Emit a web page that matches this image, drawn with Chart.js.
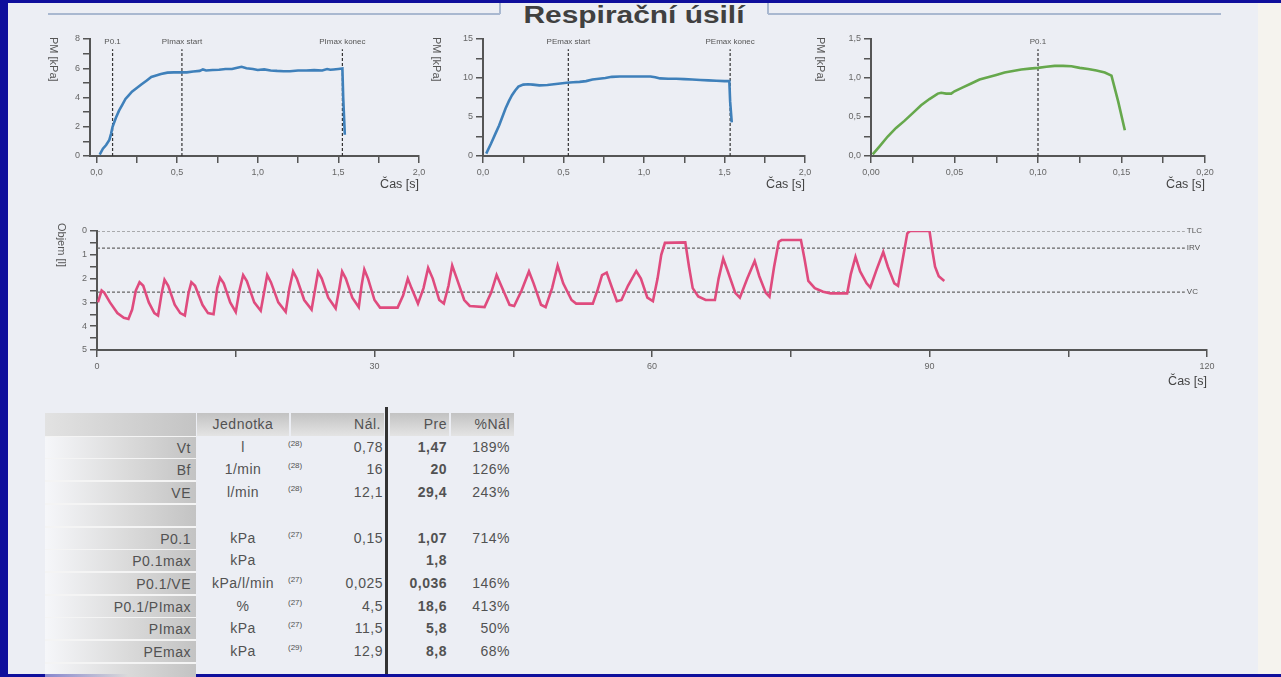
<!DOCTYPE html>
<html>
<head>
<meta charset="utf-8">
<script src="https://cdn.jsdelivr.net/npm/chart.js@4.4.1/dist/chart.umd.min.js"></script>
<style>
body{margin:0;width:1281px;height:677px;background:#0f0f9c;overflow:hidden;position:relative;
  font-family:"Liberation Sans",Arial,Helvetica,sans-serif;}
.abs{position:absolute;}
#page{left:8px;top:3px;width:1273px;height:671px;background:#eceef4;}
#strip{left:1258px;top:3px;width:23px;height:671px;background:#f5f3ee;}
canvas{position:absolute;}
.ytitle{position:absolute;writing-mode:vertical-rl;font-size:11px;color:#555;white-space:nowrap;}
#title{left:500px;top:4px;width:268px;height:22px;line-height:22px;text-align:center;
  font-size:23px;font-weight:bold;color:#404040;transform:scaleX(1.3);}
.hl{position:absolute;height:0;border-top:2px solid #a9b8d0;}
.vl{position:absolute;width:0;border-left:2px solid #a9b8d0;}
.cell{position:absolute;font-size:14px;letter-spacing:0.5px;color:#525252;height:23px;line-height:23px;white-space:nowrap;}
.lab{background:linear-gradient(to right,rgba(255,255,255,0.5) 0%,#dadada 55%,#c3c3c3 100%);
  border-top:1px solid #f4f4f4;border-bottom:1px solid #f4f4f4;box-sizing:border-box;text-align:right;padding-right:5px;}
.head{background:linear-gradient(#c2c2c2,#e4e4e4);}
.note{font-size:8px;letter-spacing:0;line-height:10px;height:10px;}
</style>
</head>
<body>
<div id="page" class="abs"></div>
<div id="strip" class="abs"></div>

<div class="hl" style="left:48px;top:13px;width:452px"></div>
<div class="vl" style="left:499px;top:3px;height:11px"></div>
<div class="vl" style="left:767px;top:3px;height:11px"></div>
<div class="hl" style="left:768px;top:13px;width:453px"></div>
<div id="title" class="abs">Respirační úsilí</div>

<canvas id="cPI" width="414" height="175" style="left:30px;top:25px"></canvas>
<canvas id="cPE" width="407" height="175" style="left:423px;top:25px"></canvas>
<canvas id="cP01" width="424" height="175" style="left:811px;top:25px"></canvas>
<canvas id="cVol" width="1198" height="180" style="left:37px;top:215px"></canvas>

<div class="ytitle" style="left:48px;top:37px">PM [kPa]</div>
<div class="ytitle" style="left:431px;top:37px">PM [kPa]</div>
<div class="ytitle" style="left:815px;top:37px">PM [kPa]</div>
<div class="ytitle" style="left:56px;top:223px">Objem [l]</div>

<div id="table"></div>

<script>
// ---- PImax (nádech) ----
const piTime = [0.02,0.04,0.06,0.08,0.09,0.10,0.12,0.14,0.16,0.18,0.20,0.22,0.25,0.28,0.31,0.34,0.37,0.40,0.44,0.48,
  0.52,0.56,0.60,0.64,0.66,0.68,0.72,0.76,0.80,0.84,0.88,0.90,0.93,0.97,1.00,1.04,1.08,1.12,1.16,1.20,
  1.25,1.30,1.35,1.40,1.43,1.45,1.47,1.50,1.525,1.53,1.54];
const piPress = [0.1,0.5,0.75,1.1,1.5,2.0,2.6,3.1,3.5,3.9,4.15,4.4,4.65,4.9,5.15,5.4,5.5,5.6,5.7,5.72,
  5.72,5.72,5.78,5.82,5.92,5.85,5.88,5.9,5.95,5.95,6.05,6.1,6.0,5.95,5.88,5.92,5.85,5.82,5.8,5.8,
  5.85,5.85,5.87,5.85,5.95,5.9,5.92,5.95,5.98,4.0,1.45];
const piMarks = [0.1, 0.53, 1.525];
const piMarkNames = ['P0.1', 'PImax start', 'PImax konec'];

// ---- PEmax (výdech) ----
const peTime = [0.02,0.05,0.08,0.10,0.12,0.14,0.16,0.18,0.20,0.22,0.25,0.28,0.31,0.35,0.40,0.44,0.48,0.52,0.56,0.60,
  0.64,0.68,0.72,0.76,0.80,0.85,0.90,0.95,1.00,1.04,1.07,1.10,1.15,1.20,1.25,1.30,1.35,1.40,1.45,1.50,
  1.53,1.535,1.545];
const pePress = [0.3,1.6,3.0,3.9,5.0,6.1,7.0,7.8,8.4,8.9,9.15,9.2,9.15,9.05,9.1,9.2,9.3,9.4,9.45,9.5,
  9.6,9.8,9.9,10.0,10.15,10.2,10.2,10.2,10.2,10.2,10.1,9.95,9.9,9.9,9.85,9.8,9.75,9.7,9.65,9.6,
  9.6,7.0,4.3];
const peMarks = [0.53, 1.535];
const peMarkNames = ['PEmax start', 'PEmax konec'];

// ---- P0.1 ----
const p01Time = [0.001,0.005,0.01,0.015,0.02,0.025,0.03,0.035,0.04,0.042,0.045,0.048,0.05,0.055,0.06,0.065,0.07,
  0.075,0.08,0.085,0.09,0.095,0.10,0.105,0.11,0.115,0.12,0.125,0.13,0.135,0.14,0.144,0.148,0.152];
const p01Press = [0.02,0.12,0.25,0.36,0.45,0.55,0.65,0.73,0.8,0.81,0.8,0.8,0.83,0.88,0.93,0.98,1.01,
  1.04,1.07,1.09,1.11,1.12,1.13,1.145,1.155,1.155,1.15,1.13,1.115,1.095,1.07,1.03,0.7,0.33];
const p01Marks = [0.1];
const p01MarkNames = ['P0.1'];

// ---- Objem ----
const volTime = [0.1,0.5,0.8,1.4,2.2,2.9,3.4,3.8,4.2,4.6,
  5.0,5.6,6.2,6.6,7.0,7.3,7.7,8.4,9.0,9.5,
  9.9,10.2,10.6,11.4,12.0,12.6,13.0,13.3,13.7,14.4,
  15.0,15.4,15.8,16.2,17.0,17.7,18.1,18.4,18.8,19.6,
  20.4,20.8,21.2,21.6,22.4,23.2,23.6,23.9,24.3,25.0,
  25.8,26.2,26.5,26.9,27.6,28.3,28.6,28.9,29.3,30.0,
  30.6,32.5,33.1,33.6,34.0,34.7,35.3,35.8,36.3,37.0,
  37.5,38.0,38.4,38.9,39.7,40.3,41.9,42.6,43.2,43.7,
  44.6,45.1,45.9,46.7,47.2,48.0,48.5,49.2,49.8,50.4,
  51.3,51.8,53.6,54.1,54.6,55.1,55.6,56.2,56.7,57.4,
  58.3,58.8,59.5,60.1,60.6,61.0,61.4,63.6,64.0,64.4,
  65.0,65.8,66.8,67.2,67.7,68.2,69.0,69.5,70.3,71.1,
  71.6,72.3,72.7,73.2,73.7,74.0,76.1,76.5,76.9,77.6,
  78.5,79.3,81.1,81.5,82.0,82.5,83.2,83.6,84.3,85.0,
  85.5,86.2,86.6,87.1,87.6,87.9,90.0,90.3,90.6,91.0,
  91.6];
const volLitres = [3.0,2.5,2.6,3.0,3.45,3.65,3.7,3.3,2.5,2.15,
  2.3,3.0,3.45,3.55,2.6,2.05,2.3,3.1,3.45,3.55,
  2.6,2.15,2.3,3.1,3.45,3.5,2.4,1.97,2.2,3.0,
  3.4,2.5,1.85,2.1,3.0,3.35,2.5,1.85,2.15,3.0,
  3.4,2.4,1.7,2.0,2.9,3.3,2.4,1.72,2.0,2.8,
  3.25,2.4,1.7,2.0,2.8,3.2,2.3,1.62,2.0,2.9,
  3.22,3.22,2.7,2.0,2.4,3.05,2.4,1.55,2.0,2.9,
  3.05,2.3,1.45,2.0,2.9,3.15,3.2,2.6,1.85,2.3,
  3.1,3.15,2.5,1.7,2.2,3.1,3.2,2.4,1.45,2.2,
  2.9,3.05,3.05,2.5,1.85,1.75,2.3,2.95,2.9,2.3,
  1.68,2.0,2.8,2.95,2.0,1.0,0.5,0.48,1.5,2.4,
  2.75,2.9,2.9,2.0,1.16,1.7,2.6,2.8,2.0,1.26,
  1.9,2.6,2.76,1.5,0.45,0.38,0.38,1.2,2.1,2.4,
  2.55,2.62,2.62,1.8,1.09,1.7,2.2,2.37,1.6,0.88,
  1.5,2.2,2.3,1.2,0.1,0.0,0.0,0.8,1.5,1.9,
  2.1];
const volLevels = [0, 0.72, 2.57];
const volLevelNames = ['TLC', 'IRV', 'VC'];

// ---- osy ----
const secTicks = [0,0.25,0.5,0.75,1,1.25,1.5,1.75,2];
const secLabels = ['0,0','','0,5','','1,0','','1,5','','2,0'];
const p01TimeTicks = [0,0.025,0.05,0.075,0.1,0.125,0.15,0.175,0.2];
const p01TimeLabels = ['0,00','','0,05','','0,10','','0,15','','0,20'];
const volTimeTicks = [0,15,30,45,60,75,90,105,120];
const volTimeLabels = ['0','','30','','60','','90','','120'];
const piTicks = [0,1,2,3,4,5,6,7,8];
const piLabels = ['0','','2','','4','','6','','8'];
const peTicks = [0,2.5,5,7.5,10,12.5,15];
const peLabels = ['0','','5','','10','','15'];
const p01Ticks = [0,0.25,0.5,0.75,1,1.25,1.5];
const p01Labels = ['0,0','','0,5','','1,0','','1,5'];
const volTicks = [0,0.5,1,1.5,2,2.5,3,3.5,4,4.5,5];
const volLabels = ['0','','1','','2','','3','','4','','5'];

// ---- tabulka ----
const rowNames = ['Vt','Bf','VE','','P0.1','P0.1max','P0.1/VE','P0.1/PImax','PImax','PEmax',''];
const rowUnits = ['l','1/min','l/min','','kPa','kPa','kPa/l/min','%','kPa','kPa',''];
const rowNotes = ['(28)','(28)','(28)','','(27)','','(27)','(27)','(27)','(29)',''];
const rowNal = ['0,78','16','12,1','','0,15','','0,025','4,5','11,5','12,9',''];
const rowPre = ['1,47','20','29,4','','1,07','1,8','0,036','18,6','5,8','8,8',''];
const rowPct = ['189%','126%','243%','','714%','','146%','413%','50%','68%',''];

Chart.defaults.font.family = '"Liberation Sans", Arial, Helvetica, sans-serif';

// popisky u přerušovaných čar
const markerLabels = {
  id: 'markerLabels',
  afterDatasetsDraw(chart, args, opts) {
    const {ctx, scales: {x, y}} = chart;
    ctx.save();
    ctx.font = '8px "Liberation Sans", Arial';
    ctx.fillStyle = '#555';
    ctx.textBaseline = 'middle';
    (opts.items || []).forEach(it => {
      ctx.textAlign = it.align;
      ctx.fillText(it.text, x.getPixelForValue(it.x) + (it.dx || 0), y.getPixelForValue(it.y) + (it.dy || 0));
    });
    ctx.restore();
  }
};

function axisStyle() {
  return {
    grid: {display: true, drawOnChartArea: false, drawTicks: true, tickLength: 7, color: '#555', tickColor: '#555', lineWidth: 1.5},
    border: {display: true, color: '#555', width: 2}
  };
}

function makeChart(id, o) {
  const sets = [{
    data: o.t.map((t, i) => ({x: t, y: o.v[i]})),
    borderColor: o.color, borderWidth: 2.6, pointRadius: 0, tension: 0
  }];
  const items = [];
  (o.vMarks || []).forEach((m, i) => {
    sets.push({data: [{x: m, y: 0}, {x: m, y: o.vTop}], borderColor: '#333', borderWidth: 1.2,
      borderDash: [3, 2], pointRadius: 0});
    items.push({x: m, y: o.vTop, dy: -7, text: o.vNames[i], align: 'center'});
  });
  (o.hMarks || []).forEach((m, i) => {
    sets.push({data: [{x: 0, y: m}, {x: o.hEnd, y: m}], borderColor: '#666', borderWidth: 1.2,
      borderDash: [3, 2], pointRadius: 0});
    items.push({x: o.hEnd, y: m, dx: 2, text: o.hNames[i], align: 'left'});
  });
  new Chart(document.getElementById(id), {
    type: 'line',
    data: {datasets: sets},
    options: {
      responsive: false, animation: false, events: [],
      layout: {padding: {top: o.padTop, right: o.padRight, left: 0, bottom: o.padBottom}},
      plugins: {legend: {display: false}, tooltip: {enabled: false}, markerLabels: {items: items}},
      scales: {
        x: Object.assign(axisStyle(), {
          type: 'linear', min: o.xMin, max: o.xMax,
          afterFit: s => { s.height = o.xH; },
          afterBuildTicks: s => { s.ticks = o.xTicks.map(v => ({value: v})); },
          ticks: {color: '#666', font: {size: 9}, padding: 4, autoSkip: false, maxRotation: 0,
            callback: (v, i) => o.xLabels[i]},
          title: {display: true, text: 'Čas [s]', align: 'end', color: '#444', font: {size: 12.5}, padding: 0}
        }),
        y: Object.assign(axisStyle(), {
          min: o.yMin, max: o.yMax, reverse: !!o.yReverse,
          afterFit: s => { s.width = 60; },
          afterBuildTicks: s => { s.ticks = o.yTicks.map(v => ({value: v})); },
          ticks: {color: '#666', font: {size: 9}, padding: 3, autoSkip: false,
            callback: (v, i) => o.yLabels[i]}
        })
      }
    },
    plugins: [markerLabels]
  });
}

makeChart('cPI', {t: piTime, v: piPress, color: '#3f80ba', xMin: -0.04, xMax: 2, yMin: 0, yMax: 8,
  xTicks: secTicks, xLabels: secLabels, yTicks: piTicks, yLabels: piLabels,
  vMarks: piMarks, vNames: piMarkNames, vTop: 7.3,
  padTop: 14, padRight: 25, padBottom: 8, xH: 36});
makeChart('cPE', {t: peTime, v: pePress, color: '#3f80ba', xMin: 0, xMax: 2, yMin: 0, yMax: 15,
  xTicks: secTicks, xLabels: secLabels, yTicks: peTicks, yLabels: peLabels,
  vMarks: peMarks, vNames: peMarkNames, vTop: 13.7,
  padTop: 14, padRight: 25, padBottom: 8, xH: 36});
makeChart('cP01', {t: p01Time, v: p01Press, color: '#66a84c', xMin: 0, xMax: 0.2, yMin: 0, yMax: 1.5,
  xTicks: p01TimeTicks, xLabels: p01TimeLabels, yTicks: p01Ticks, yLabels: p01Labels,
  vMarks: p01Marks, vNames: p01MarkNames, vTop: 1.37,
  padTop: 14, padRight: 30, padBottom: 8, xH: 36});
makeChart('cVol', {t: volTime, v: volLitres, color: '#df4b7e', xMin: 0, xMax: 120, yMin: 0, yMax: 5, yReverse: true,
  xTicks: volTimeTicks, xLabels: volTimeLabels, yTicks: volTicks, yLabels: volLabels,
  hMarks: volLevels, hNames: volLevelNames, hEnd: 117.6,
  padTop: 16, padRight: 28, padBottom: 6, xH: 39});

// tabulka
const tbl = document.getElementById('table');
const rowH = 22.7, top0 = 413;
function cell(cls, left, top, width, text, style) {
  const d = document.createElement('div');
  d.className = 'cell ' + cls;
  d.style.left = left + 'px';
  d.style.top = top + 'px';
  d.style.width = width + 'px';
  if (style) d.style.cssText += style;
  d.textContent = text;
  tbl.appendChild(d);
}
// hlavička
cell('head', 45, top0, 151, '', 'background:linear-gradient(to right,#e2e2e2,#c4c4c4);');
cell('head', 197, top0, 92, 'Jednotka', 'text-align:center;');
cell('head', 291, top0, 93, 'Nál.', 'text-align:right;box-sizing:border-box;padding-right:3px;');
cell('head', 390, top0, 59, 'Pre', 'text-align:right;box-sizing:border-box;padding-right:2px;');
cell('head', 451, top0, 63, '%Nál', 'text-align:right;box-sizing:border-box;padding-right:4px;');
rowNames.forEach((n, i) => {
  const y = top0 + rowH * (i + 1);
  cell('lab', 45, y, 151, n);
  cell('', 197, y, 92, rowUnits[i], 'text-align:center;');
  cell('note', 288, y + 3, 30, rowNotes[i]);
  cell('', 310, y, 73, rowNal[i], 'text-align:right;');
  cell('', 390, y, 57, rowPre[i], 'text-align:right;font-weight:bold;');
  cell('', 450, y, 60, rowPct[i], 'text-align:right;');
});
const bar = document.createElement('div');
bar.className = 'abs';
bar.style.cssText = 'left:385px;top:407px;width:3px;height:267px;background:#333;';
tbl.appendChild(bar);
</script>
</body>
</html>
